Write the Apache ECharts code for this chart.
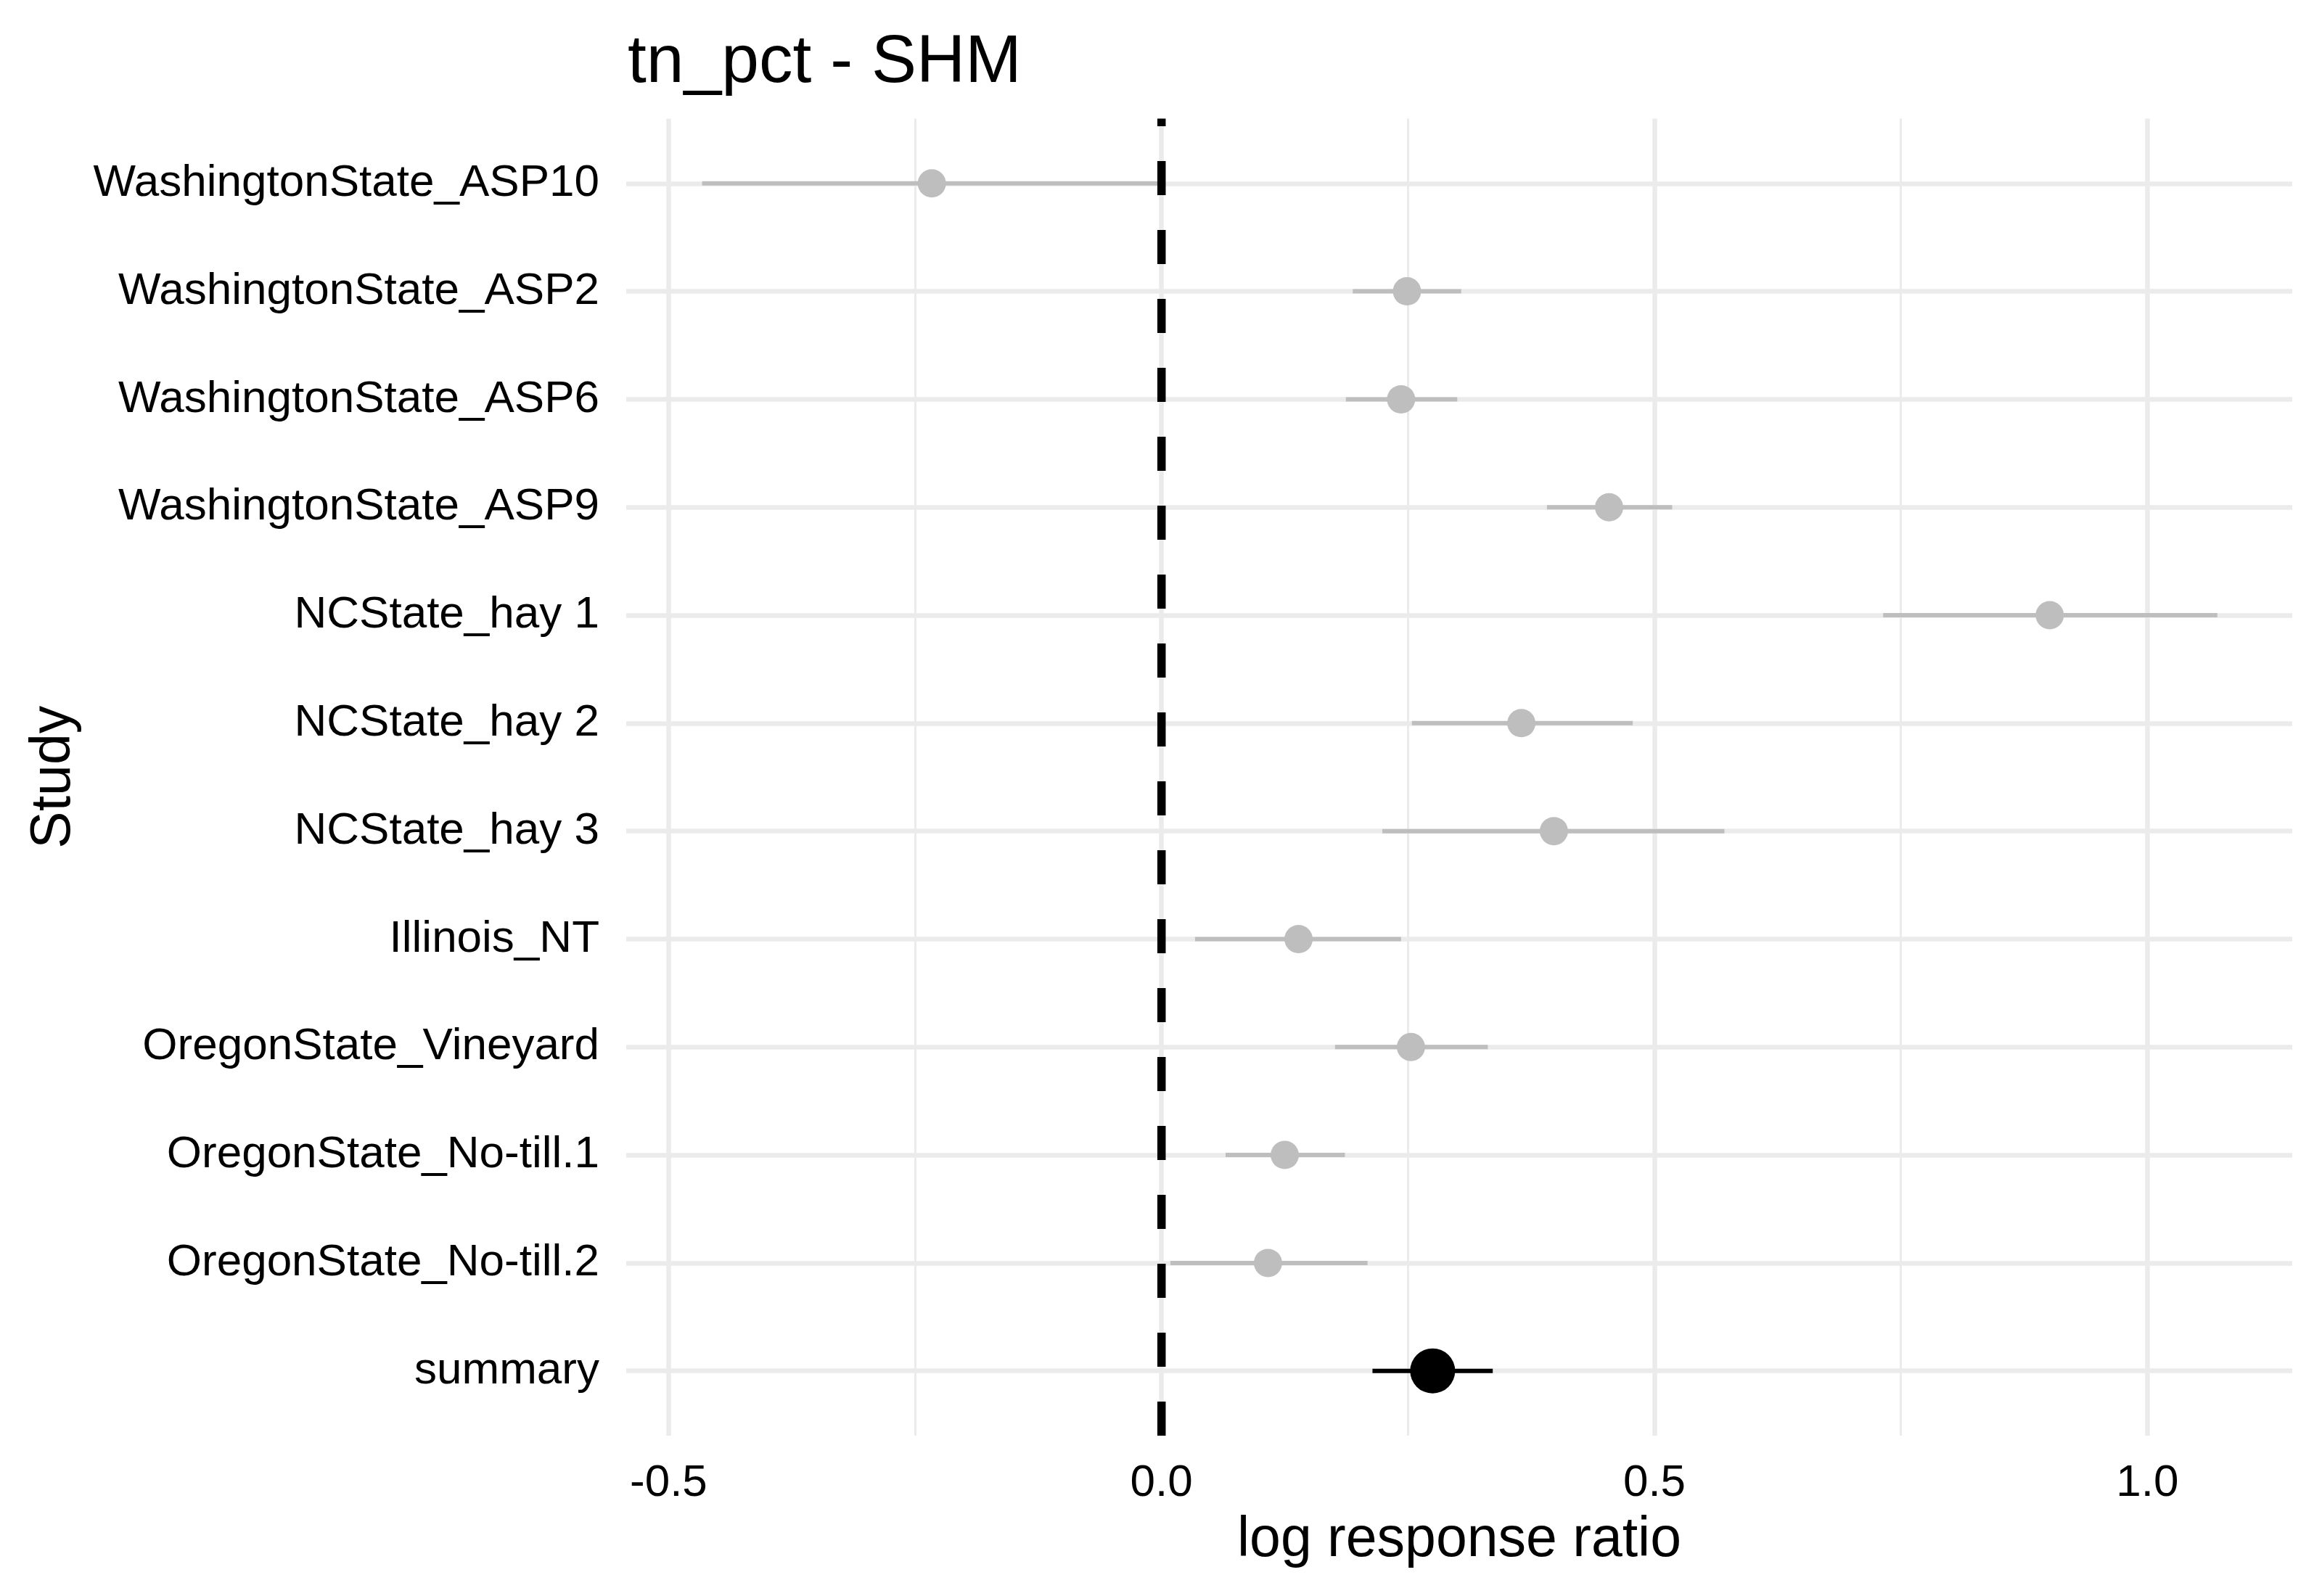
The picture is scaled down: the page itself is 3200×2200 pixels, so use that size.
<!DOCTYPE html>
<html>
<head>
<meta charset="utf-8">
<script src="https://cdn.jsdelivr.net/npm/echarts@6/dist/echarts.min.js"></script>
<style>html,body{margin:0;padding:0;background:#fff}#c{width:3200px;height:2200px}</style>
</head>
<body>
<div id="c"></div>
<script>
const studies = ['WashingtonState_ASP10','WashingtonState_ASP2','WashingtonState_ASP6','WashingtonState_ASP9','NCState_hay 1','NCState_hay 2','NCState_hay 3','Illinois_NT','OregonState_Vineyard','OregonState_No-till.1','OregonState_No-till.2','summary'];
const estimate = [-0.233, 0.249, 0.243, 0.454, 0.901, 0.365, 0.398, 0.139, 0.253, 0.125, 0.108, 0.275];
const lower = [-0.466, 0.194, 0.187, 0.391, 0.732, 0.254, 0.224, 0.034, 0.176, 0.065, 0.009, 0.214];
const upper = [0.0, 0.304, 0.300, 0.518, 1.071, 0.478, 0.571, 0.243, 0.331, 0.186, 0.209, 0.336];
const xTicks = [-0.5, 0.0, 0.5, 1.0];
const xMinorTicks = [-0.25, 0.25, 0.75];
const refLine = [0];

const FONT = '"Liberation Sans", Arial, Helvetica, sans-serif';
const isSummary = i => studies[i] === 'summary';
const rowIndex = studies.map((s, i) => i);

const ciData = studies.map((s, i) => [lower[i], upper[i], i]);
const ptStudy = [], ptSummary = [];
studies.forEach((s, i) => { (isSummary(i) ? ptSummary : ptStudy).push([estimate[i], i]); });

const chart = echarts.init(document.getElementById('c'), null, {renderer: 'canvas'});
chart.setOption({
  backgroundColor: '#ffffff',
  animation: false,
  title: {
    text: 'tn_pct - SHM', left: 860, top: 36,
    textStyle: {fontFamily: FONT, fontSize: 93, fontWeight: 'normal', color: '#000'}
  },
  grid: {left: 863, right: 41, top: 163.5, bottom: 221, containLabel: false},
  xAxis: [{
    type: 'value', min: -0.543, max: 1.147,
    name: 'log response ratio', nameLocation: 'middle', nameGap: 106,
    nameTextStyle: {fontFamily: FONT, fontSize: 77, color: '#000'},
    axisLine: {show: false},
    axisTick: {show: false, customValues: xTicks},
    axisLabel: {
      fontFamily: FONT, fontSize: 62, color: '#000', margin: 35,
      customValues: xTicks,
      formatter: v => v.toFixed(1)
    },
    splitLine: {show: true, lineStyle: {color: '#ebebeb', width: 6.5}}
  }, {
    type: 'value', min: -0.543, max: 1.147, position: 'bottom',
    axisLine: {show: false},
    axisTick: {show: false, customValues: xMinorTicks},
    axisLabel: {show: false, customValues: xMinorTicks},
    splitLine: {show: true, lineStyle: {color: '#ebebeb', width: 3}}
  }],
  yAxis: {
    type: 'value', min: -0.6, max: 11.6, inverse: true,
    name: 'Study', nameLocation: 'middle', nameGap: 750, nameRotate: 90,
    nameTextStyle: {fontFamily: FONT, fontSize: 77, color: '#000'},
    axisLine: {show: false},
    axisTick: {show: false, customValues: rowIndex},
    axisLabel: {
      fontFamily: FONT, fontSize: 62, color: '#000', margin: 37,
      padding: [7, 0, 0, 0],
      customValues: rowIndex,
      formatter: v => studies[Math.round(v)]
    },
    splitLine: {show: true, lineStyle: {color: '#ebebeb', width: 6.5}}
  },
  series: [{
    type: 'custom', name: 'ci', xAxisIndex: 0, z: 3,
    data: ciData,
    encode: {x: [0, 1], y: 2},
    renderItem: (params, api) => {
      const i = api.value(2);
      const a = api.coord([api.value(0), i]);
      const b = api.coord([api.value(1), i]);
      return {type: 'line', shape: {x1: a[0], y1: a[1], x2: b[0], y2: b[1]},
        style: {stroke: isSummary(i) ? '#000000' : '#bebebe', lineWidth: 6, lineCap: 'butt'}};
    }
  }, {
    type: 'custom', name: 'ref', xAxisIndex: 0, z: 4,
    data: refLine.map(v => [v]),
    encode: {x: 0},
    renderItem: (params, api) => {
      const cs = params.coordSys;
      const x = api.coord([api.value(0), 0])[0];
      return {type: 'line', shape: {x1: x, y1: cs.y + cs.height, x2: x, y2: cs.y},
        style: {stroke: '#000000', lineWidth: 11.5, lineDash: [47, 48], lineCap: 'butt'}};
    }
  }, {
    type: 'scatter', name: 'study', xAxisIndex: 0, z: 5,
    data: ptStudy, symbol: 'circle', symbolSize: 39,
    itemStyle: {color: '#bebebe', opacity: 1}
  }, {
    type: 'scatter', name: 'summary', xAxisIndex: 0, z: 6,
    data: ptSummary, symbol: 'circle', symbolSize: 62,
    itemStyle: {color: '#000000', opacity: 1}
  }]
});
</script>
</body>
</html>
